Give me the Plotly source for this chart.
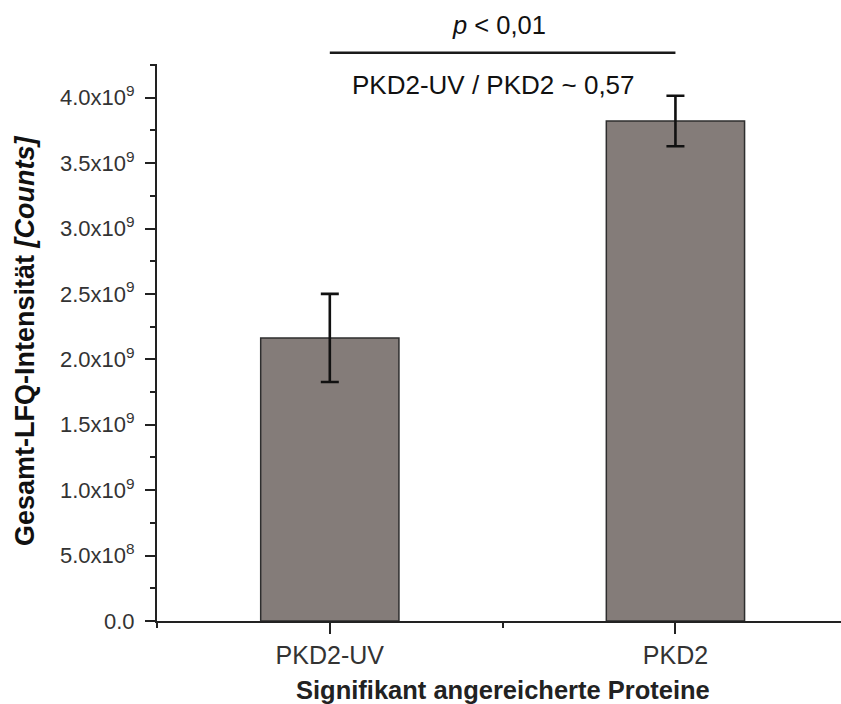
import plotly.graph_objects as go

# Gesamt-LFQ-Intensität der signifikant angereicherten Proteine
categories = ["PKD2-UV", "PKD2"]
intensity = [2.164e9, 3.822e9]
intensity_err = [0.337e9, 0.193e9]

y_tickvals = [0, 0.5e9, 1.0e9, 1.5e9, 2.0e9, 2.5e9, 3.0e9, 3.5e9, 4.0e9]
y_ticktext = ["0.0", "5.0x10<sup>8</sup>", "1.0x10<sup>9</sup>", "1.5x10<sup>9</sup>",
              "2.0x10<sup>9</sup>", "2.5x10<sup>9</sup>", "3.0x10<sup>9</sup>",
              "3.5x10<sup>9</sup>", "4.0x10<sup>9</sup>"]

p_text = "<i>p</i> < 0,01"
ratio_text = "PKD2-UV / PKD2 ~ 0,57"

positions = list(range(len(categories)))

W, H = 841, 704
M_L, M_R, M_T, M_B = 157, 0, 64, 83
plot_h = H - M_T - M_B

FONT = "Liberation Sans, Arial, sans-serif"

fig = go.Figure()
fig.add_trace(go.Bar(
    x=positions,
    y=intensity,
    width=0.4,
    marker=dict(color="#847c79", line=dict(color="#2e2e2e", width=1.5)),
    error_y=dict(type="data", array=intensity_err, visible=True,
                 color="#111111", thickness=2.6, width=9),
    showlegend=False,
))

fig.update_layout(
    width=W, height=H,
    margin=dict(l=M_L, r=M_R, t=M_T, b=M_B, pad=0),
    paper_bgcolor="white", plot_bgcolor="white",
    font=dict(family=FONT, color="#333333"),
    xaxis=dict(
        range=[-0.5, 1.479],
        tickmode="array", tickvals=positions, ticktext=categories,
        ticks="outside", ticklen=11, tickwidth=2, tickcolor="#222222",
        tickfont=dict(size=25, color="#333333"),
        showline=True, linecolor="#222222", linewidth=2,
        showgrid=False, zeroline=False,
        minor=dict(tickmode="linear", tick0=-0.5, dtick=1, ticks="outside",
                   ticklen=5, tickwidth=2, tickcolor="#222222", showgrid=False),
    ),
    yaxis=dict(
        range=[0, 4.258e9],
        tickmode="array", tickvals=y_tickvals, ticktext=y_ticktext,
        ticks="outside", ticklen=10, tickwidth=2, tickcolor="#222222",
        tickfont=dict(size=22, color="#333333"),
        ticklabelstandoff=6,
        showline=True, linecolor="#222222", linewidth=2,
        showgrid=False, zeroline=False,
        minor=dict(tickmode="linear", tick0=0, dtick=0.25e9, ticks="outside",
                   ticklen=5, tickwidth=2, tickcolor="#222222", showgrid=False),
    ),
)

def py(px):
    # pixel row -> paper fraction
    return (H - M_B - px) / plot_h

# axis titles
fig.add_annotation(
    text="<b>Gesamt-LFQ-Intensität <i>[Counts]</i></b>",
    xref="paper", yref="paper", x=(25 - M_L) / (W - M_L - M_R), y=py(341),
    xanchor="center", yanchor="middle", textangle=-90, showarrow=False,
    font=dict(family=FONT, size=27, color="#111111"),
)
fig.add_annotation(
    text="<b>Signifikant angereicherte Proteine</b>",
    xref="x", yref="paper", x=0.5, y=py(690),
    xanchor="center", yanchor="middle", showarrow=False,
    font=dict(family=FONT, size=25.5, color="#222222"),
)

# significance bracket
fig.add_shape(type="line", xref="x", yref="paper",
              x0=positions[0], x1=positions[1], y0=py(52.7), y1=py(52.7),
              line=dict(color="#1a1a1a", width=2.6))
fig.add_annotation(
    text=p_text, xref="x", yref="paper", x=0.49, y=py(25),
    xanchor="center", yanchor="middle", showarrow=False,
    font=dict(family=FONT, size=25.5, color="#111111"),
)
fig.add_annotation(
    text=ratio_text, xref="x", yref="paper", x=0.474, y=py(85),
    xanchor="center", yanchor="middle", showarrow=False,
    font=dict(family=FONT, size=26, color="#111111"),
)

fig.write_html("out.html")
